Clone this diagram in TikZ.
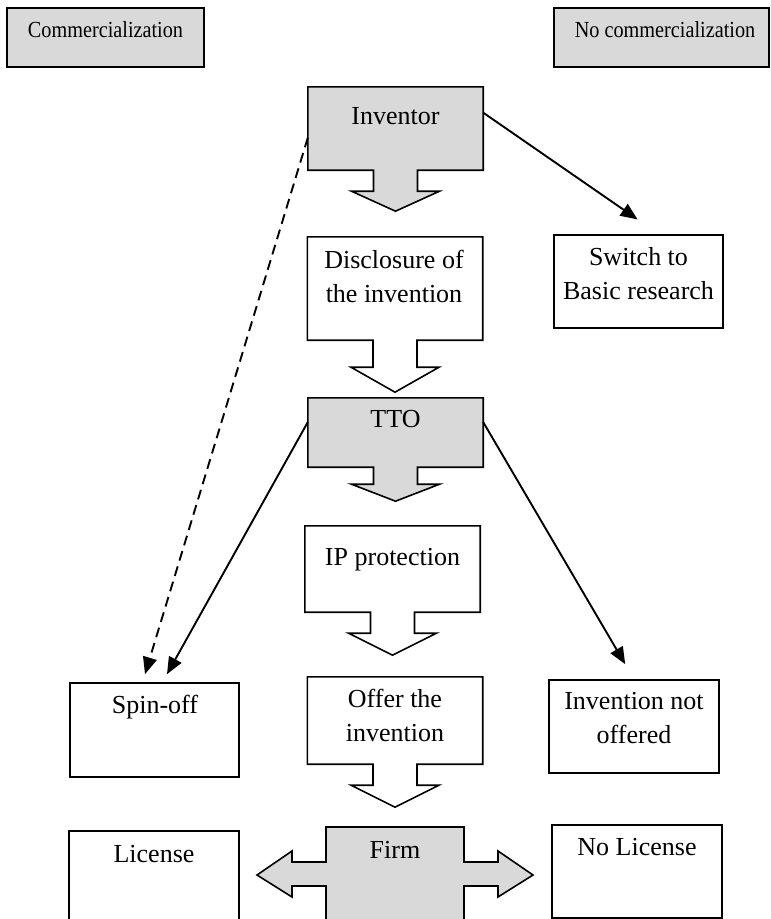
\documentclass[tikz,border=0pt]{standalone}
\usepackage{fontspec}
\setmainfont{Liberation Serif}
\usetikzlibrary{calc, arrows.meta}
\definecolor{shade}{RGB}{217, 217, 217}

\tikzset{
  box/.style={draw, line width=1.6pt, rectangle, inner sep=0pt},
  ghost/.style={rectangle, inner sep=0pt, minimum width=175pt},
  outline/.style={draw, line width=1.6pt, line join=miter},
  lbl/.style={anchor=base, inner sep=0pt, align=center, font=\fontsize{26}{34}\selectfont},
  headlbl/.style={anchor=base, inner sep=0pt, xscale=0.88, font=\fontsize{23}{27}\selectfont},
  link/.style={line width=1.9pt, -{Triangle[length=17pt,width=14pt]}},
}

% box with a down arrow under it: #1 fill, #2 box, #3 stem, #4 head
\newcommand{\downarrowbox}[4][white]{%
  \draw[outline, fill=#1] (#2.south west) -- (#2.north west) -- (#2.north east) -- (#2.south east)
    -- ([xshift=22pt]#2.south) -- ++(0,-#3) -- ++(22pt,0) -- ([yshift=-#3-#4]#2.south)
    -- ([xshift=-44pt,yshift=-#3]#2.south) -- ++(22pt,0) -- ([xshift=-22pt]#2.south) -- cycle;
}

\begin{document}
\begin{tikzpicture}[x=1pt, y=1pt]
                \clip (0,0) rectangle (771,-919);

                % Header boxes
                \node[box, fill=shade, minimum width=197pt, minimum height=59pt] (comm) at (105.5,-37.5) {};
                \node[headlbl] (commtxt) at (105.5,-37) {Commercialization};
                \node[box, fill=shade, minimum width=215pt, minimum height=59pt] (nocomm) at (661.5,-37.5) {};
                \node[headlbl] (nocommtxt) at (665,-37) {No commercialization};

                % Main column
                \node[ghost, minimum height=83pt] (inv) at (395.5,-128.5) {};
                \downarrowbox[shade]{inv}{21}{20}
                \node[lbl] (invtxt) at (395.5,-124) {Inventor};

                \node[ghost, minimum height=103pt] (disc) at (395,-288.5) {};
                \downarrowbox{disc}{27}{25}
                \node[lbl] (disctxt) at (394,-302) {Disclosure of\\the invention};

                \node[ghost, minimum height=69pt] (tto) at (395.5,-432.5) {};
                \downarrowbox[shade]{tto}{17}{17}
                \node[lbl] (ttotxt) at (395.5,-427) {TTO};

                \node[ghost, minimum height=86pt] (ip) at (392.5,-569) {};
                \downarrowbox{ip}{21}{22}
                \node[lbl] (iptxt) at (392.5,-565) {IP protection};

                \node[ghost, minimum height=87pt] (offer) at (395,-720.5) {};
                \downarrowbox{offer}{21}{22}
                \node[lbl] (offertxt) at (395,-741) {Offer the\\invention};

                % Firm with arrows to both sides
                \node[ghost, minimum width=138pt, minimum height=98pt] (firm) at (395,-876) {};
                \draw[outline, fill=shade] (326,-827) -- (464,-827) -- (464,-862) -- (498,-862) -- (498,-851)
                  -- (533,-875) -- (498,-897) -- (498,-886) -- (464,-886) -- (464,-930) -- (326,-930)
                  -- (326,-886) -- (292,-886) -- (292,-897) -- (257,-875) -- (292,-851) -- (292,-862)
                  -- (326,-862) -- cycle;
                \node[lbl] (firmtxt) at (395,-858) {Firm};

                % Side boxes
                \node[box, minimum width=169pt, minimum height=93pt] (sw) at (638.5,-281.5) {};
                \node[lbl] (swtxt) at (638.5,-299) {Switch to\\Basic research};

                \node[box, minimum width=169pt, minimum height=94pt] (spin) at (154.5,-730) {};
                \node[lbl] (spintxt) at (155,-713) {Spin-off};

                \node[box, minimum width=170pt, minimum height=93pt] (noff) at (634,-726.5) {};
                \node[lbl] (nofftxt) at (634,-743) {Invention not\\offered};

                \node[box, minimum width=170pt, minimum height=100pt] (lic) at (154,-881) {};
                \node[lbl] (lictxt) at (154,-862) {License};

                \node[box, minimum width=170pt, minimum height=93pt] (nolic) at (637,-871.5) {};
                \node[lbl] (nolictxt) at (637,-855) {No License};

                % Connectors
                \draw[link, shorten >=26pt] ($(inv.north east)!0.31!(inv.south east)$) -- ($(sw.north west)!0.62!(sw.north east)$);
                \draw[link, dash pattern=on 10pt off 6pt, shorten >=8.4pt] ($(inv.north west)!0.61!(inv.south west)$) -- ($(spin.north west)!0.43!(spin.north east)$);
                \draw[link, shorten >=9.2pt] ($(tto.north west)!0.35!(tto.south west)$) -- ($(spin.north west)!0.547!(spin.north east)$);
                \draw[link, shorten >=17.4pt] ($(tto.north east)!0.35!(tto.south east)$) -- (noff.north);
\end{tikzpicture}
\end{document}
